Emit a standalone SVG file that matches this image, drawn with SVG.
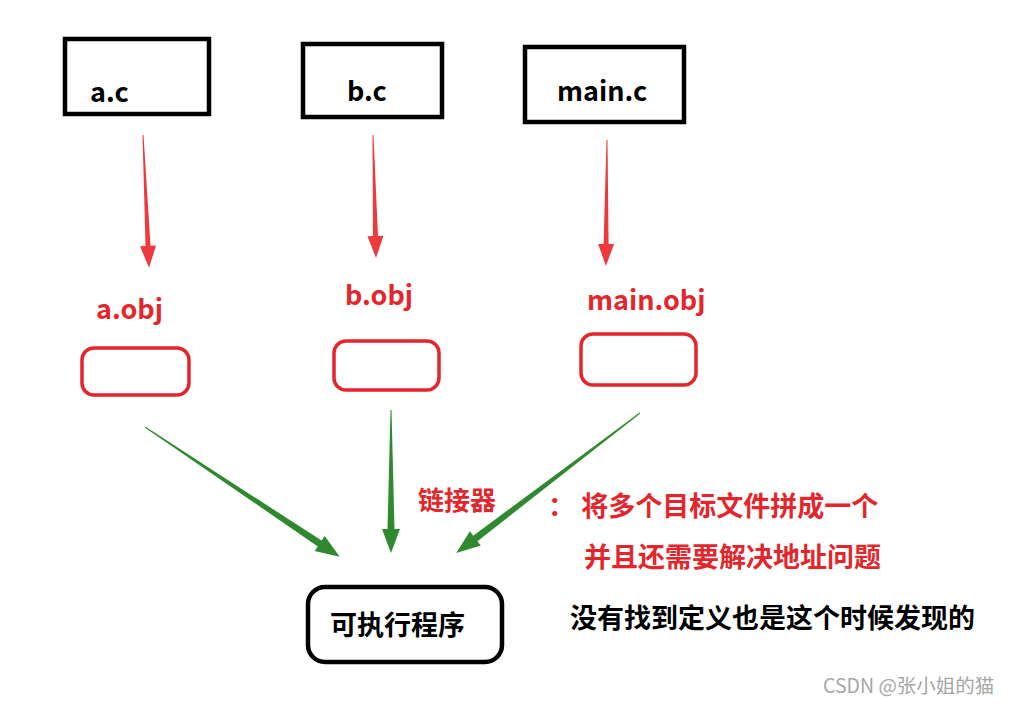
<svg xmlns="http://www.w3.org/2000/svg" width="1010" height="705" viewBox="0 0 1010 705">
<style>
.src{fill:#fff;stroke:#000;stroke-width:4.5}
.obj{fill:#fff;stroke:#e3262b;stroke-width:3.5}
.exe{fill:#fff;stroke:#000;stroke-width:4.5}
.t{font-family:"Noto Sans CJK SC","Microsoft YaHei",sans-serif;font-weight:bold}
.blk{fill:#000;font-size:27px}
.red{fill:#e3262b}
.redf{fill:#ee3a3c}
.grn{fill:#2f8a2f}
</style>
<rect width="1010" height="705" fill="#fff"/>
<g id="node-a-c"><rect class="src" x="65" y="39" width="144" height="75"/><text class="t blk" x="90" y="102" font-size="26">a.c</text></g>
<g id="node-b-c"><rect class="src" x="303" y="44" width="139" height="73"/><text class="t blk" x="347" y="101" font-size="26">b.c</text></g>
<g id="node-main-c"><rect class="src" x="525" y="47" width="159" height="75"/><text class="t blk" x="557" y="101" font-size="26">main.c</text></g>
<g id="node-a-obj"><text class="t red" x="96" y="319" font-size="27">a.obj</text><rect class="obj" x="82" y="348" width="107" height="47" rx="12"/></g>
<g id="node-b-obj"><text class="t red" x="345" y="305" font-size="27">b.obj</text><rect class="obj" x="334" y="341" width="105" height="49" rx="12"/></g>
<g id="node-main-obj"><text class="t red" x="587" y="310" font-size="27">main.obj</text><rect class="obj" x="581" y="334" width="115" height="51" rx="12"/></g>
<g id="node-exe"><rect class="exe" x="308" y="587" width="194" height="75" rx="17"/><text class="t blk" x="330" y="635">可执行程序</text></g>
<g id="connectors">
<path class="redf" transform="translate(143,135) rotate(87.4)" d="M0,-0.5 L111,-2.5 L111,-8 L133,0 L111,8 L111,2.5 L0,0.5 Z"/>
<path class="redf" transform="translate(373,135) rotate(88.6)" d="M0,-0.5 L101,-2.5 L101,-8 L123,0 L101,8 L101,2.5 L0,0.5 Z"/>
<path class="redf" transform="translate(607,140) rotate(90.5)" d="M0,-0.5 L104,-2.5 L104,-8 L126,0 L104,8 L104,2.5 L0,0.5 Z"/>
<path class="grn" transform="translate(145,427) rotate(33.7)" d="M0,-0.5 L210,-3.5 L210,-9 L234,0 L210,9 L210,3.5 L0,0.5 Z"/>
<path class="grn" transform="translate(391,410) rotate(90)" d="M0,-0.5 L119,-3.5 L119,-9 L143,0 L119,9 L119,3.5 L0,0.5 Z"/>
<path class="grn" transform="translate(640,413) rotate(142.7)" d="M0,-0.5 L207,-3.5 L207,-9 L231,0 L207,9 L207,3.5 L0,0.5 Z"/>
</g>
<g id="labels">
<text class="t red" x="418" y="510" font-size="26">链接器</text>
<text class="t red" x="548" y="516" font-size="27">： 将多个目标文件拼成一个</text>
<text class="t red" x="584" y="567" font-size="27">并且还需要解决地址问题</text>
<text class="t blk" x="570" y="628">没有找到定义也是这个时候发现的</text>
<text x="823" y="693" font-family="'Noto Sans CJK SC',sans-serif" font-size="19.5" fill="#a6a6a6">CSDN @张小姐的猫</text>
</g>
</svg>
